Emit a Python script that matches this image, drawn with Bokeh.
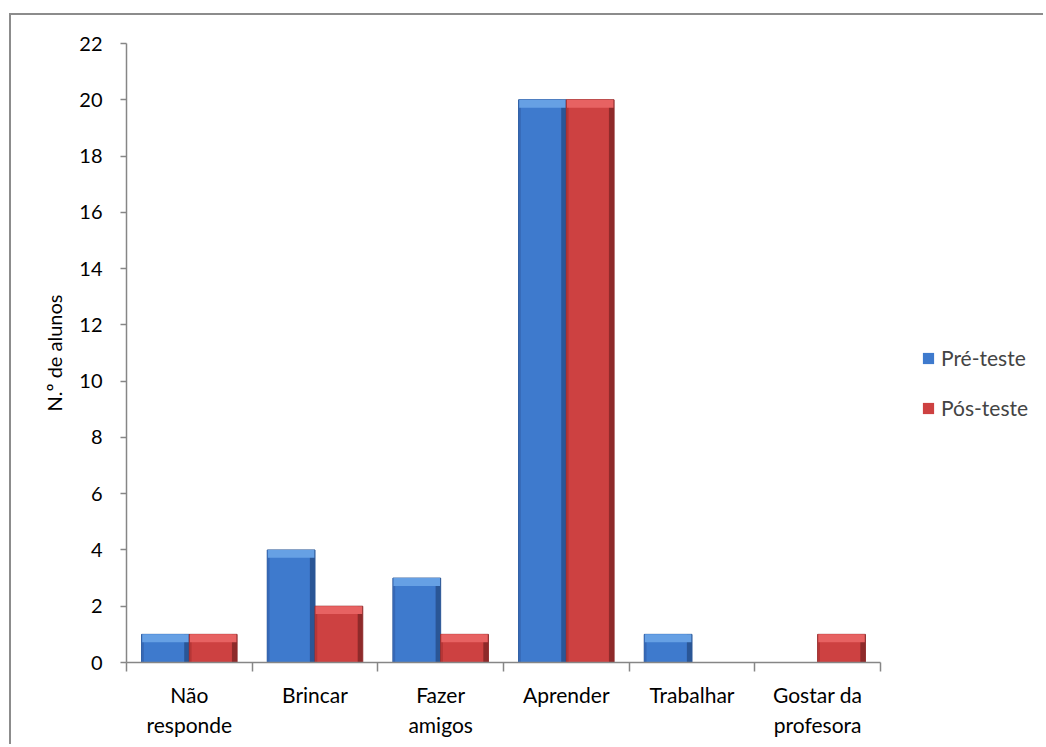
from bokeh.plotting import figure
from bokeh.models import Range1d, FixedTicker, Legend, LegendItem, ColumnDataSource
from bokeh.embed import file_html
from bokeh.resources import INLINE

categories = ["Não\nresponde", "Brincar", "Fazer\namigos", "Aprender", "Trabalhar", "Gostar da\nprofesora"]
pre_teste = [1, 4, 3, 20, 1, 0]
pos_teste = [1, 2, 1, 20, 0, 1]
y_ticks = [0, 2, 4, 6, 8, 10, 12, 14, 16, 18, 20, 22]
series_names = ["Pré-teste", "Pós-teste"]

FONT = "Lato"
FS = "20px"
FS_L = "21px"
AXIS_COLOR = "#868686"

# layout in pixels
W, H = 1034, 731
LEFT, TOP, PLOT_W, PLOT_H = 115, 28, 754, 619
n = len(categories)
# the frame runs to the right edge so that the legend sits inside it
x_end = n * (W - LEFT) / PLOT_W

p = figure(width=W, height=H, output_backend="svg", toolbar_location=None,
           x_range=Range1d(0, x_end), y_range=Range1d(0, 22),
           min_border_left=LEFT, min_border_top=TOP,
           min_border_bottom=H - TOP - PLOT_H, min_border_right=0)
p.styles = {"margin-left": "9px", "margin-top": "13px",
            "border-top": "2px solid #8c8c8c", "border-left": "2px solid #8c8c8c"}
p.outline_line_color = None
p.xgrid.grid_line_color = None
p.ygrid.grid_line_color = None

# x axis: labels at category centres, ticks at category boundaries
xa = p.xaxis[0]
centres = [i + 0.5 for i in range(n)]
xa.bounds = (0, n)
xa.ticker = FixedTicker(ticks=centres, minor_ticks=list(range(n + 1)))
xa.major_label_overrides = {c: lab for c, lab in zip(centres, categories)}
xa.major_tick_out = 0
xa.major_tick_in = 0
xa.minor_tick_out = 9
xa.minor_tick_in = 0
xa.minor_tick_line_color = AXIS_COLOR
xa.axis_line_color = AXIS_COLOR
xa.axis_line_width = 1.5
xa.minor_tick_line_width = 1.5
xa.major_label_standoff = 10
xa.major_label_text_font = FONT
xa.major_label_text_font_size = FS_L
xa.major_label_text_color = "#000000"

ya = p.yaxis[0]
ya.ticker = FixedTicker(ticks=y_ticks)
ya.minor_tick_line_color = None
ya.major_tick_out = 6
ya.major_tick_in = 0
ya.major_tick_line_color = AXIS_COLOR
ya.axis_line_color = AXIS_COLOR
ya.axis_line_width = 1.5
ya.major_tick_line_width = 1.5
ya.major_label_standoff = 18
ya.major_label_text_font = FONT
ya.major_label_text_font_size = FS
ya.major_label_text_color = "#000000"
ya.axis_label = "N.º de alunos"
ya.axis_label_text_font = FONT
ya.axis_label_text_font_size = FS
ya.axis_label_text_font_style = "normal"
ya.axis_label_text_color = "#000000"
ya.axis_label_standoff = 10

BW = 0.38
styles = [
    dict(edge="#2a5696", left="#3668b6", main="#3e7acd", light="#66a0e4"),
    dict(edge="#8e2a2a", left="#b53636", main="#cd4141", light="#e76262"),
]
items = []
for k, (vals, st, off) in enumerate(zip([pre_teste, pos_teste], styles, [-BW / 2, BW / 2])):
    xs = [i + 0.5 + off for i, v in enumerate(vals) if v > 0]
    vs = [v for v in vals if v > 0]
    src = ColumnDataSource(dict(x=xs, top=vs, hl=[v - 0.28 for v in vs],
                                xi=[x - 0.012 for x in xs], xl=[x - 0.02 for x in xs]))
    # bevel: dark right edge, slightly darker left edge, lighter top facet
    p.vbar(x="x", top="top", bottom=0, width=BW, source=src,
           fill_color=st["edge"], line_color=st["edge"], line_width=1)
    p.vbar(x="xl", top="top", bottom=0, width=BW - 0.04, source=src,
           fill_color=st["left"], line_color=None)
    r = p.vbar(x="xi", top="top", bottom=0, width=BW - 0.06, source=src,
               fill_color=st["main"], line_color=None)
    p.vbar(x="x", top="top", bottom="hl", width=BW - 0.01, source=src,
           fill_color=st["light"], line_color=None)
    items.append(LegendItem(label=series_names[k], renderers=[r]))

legend = Legend(items=items, location=(795, 242), orientation="vertical",
                glyph_width=14, glyph_height=14, label_text_font=FONT,
                label_text_font_size=FS_L, label_height=22, spacing=25,
                label_standoff=6, padding=0, margin=0,
                border_line_color=None, background_fill_alpha=0)
p.add_layout(legend, "center")

open("out.html", "w").write(file_html(p, INLINE))
